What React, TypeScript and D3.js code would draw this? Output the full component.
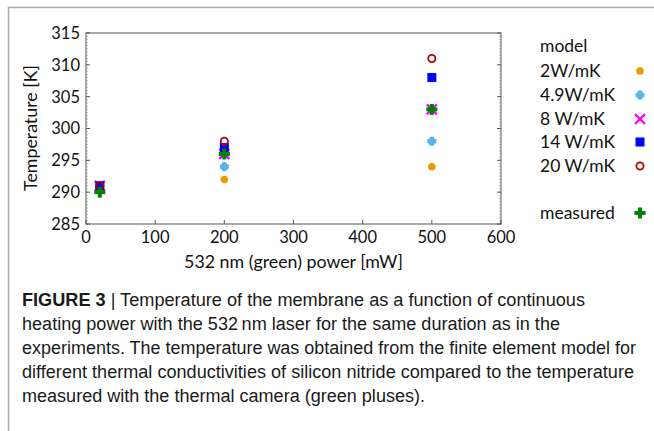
import React from "react";
import * as d3 from "d3";

const powers = [20, 200, 500];
const seriesNames = ["2W/mK", "4.9W/mK", "8 W/mK", "14 W/mK", "20 W/mK", "measured"];
const t2 = [291, 292, 294];
const t49 = [291, 294, 298];
const t8 = [291, 296, 303];
const t14 = [291, 297, 308];
const t20 = [291, 298, 311];
const tMeasured = [290, 296, 303];
const xTicks = [0, 100, 200, 300, 400, 500, 600];
const yTicks = [285, 290, 295, 300, 305, 310, 315];
const captionLines = [
  "Temperature of the membrane as a function of continuous",
  "heating power with the 532\u2009nm laser for the same duration as in the",
  "experiments. The temperature was obtained from the finite element model for",
  "different thermal conductivities of silicon nitride compared to the temperature",
  "measured with the thermal camera (green pluses).",
];
const captionEnds = [585, 560, 636, 634, 425];

const W = 654, H = 431;
const x = d3.scaleLinear().domain([0, 600]).range([86, 501]);
const y = d3.scaleLinear().domain([285, 315]).range([224, 33]);
const FONT = "Lato, 'Open Sans', sans-serif";

type MarkerKind = "dot" | "blob" | "x" | "square" | "ring" | "plus";
const kinds: MarkerKind[] = ["dot", "blob", "x", "square", "ring", "plus"];
const colors = ["#e69f00", "#56b4e9", "#ff00ff", "#0000ff", "#b00000", "#008000"];

function Marker({ kind, cx, cy, color }: { kind: MarkerKind; cx: number; cy: number; color: string }) {
  switch (kind) {
    case "dot":
      return <circle cx={cx} cy={cy} r={3.8} fill={color} />;
    case "blob":
      return (
        <g fill={color}>
          <circle cx={cx} cy={cy} r={3.6} />
          <rect x={cx - 4.5} y={cy - 2.2} width={9} height={4.4} />
          <rect x={cx - 2.2} y={cy - 4.5} width={4.4} height={9} />
        </g>
      );
    case "x":
      return (
        <path
          d={`M${cx - 5},${cy - 5}L${cx + 5},${cy + 5}M${cx - 5},${cy + 5}L${cx + 5},${cy - 5}`}
          stroke={color}
          strokeWidth={2.4}
          fill="none"
        />
      );
    case "square":
      return <rect x={cx - 4.5} y={cy - 4.5} width={9} height={9} fill={color} />;
    case "ring":
      return <circle cx={cx} cy={cy} r={3.6} fill="none" stroke={color} strokeWidth={1.8} />;
    case "plus":
      return (
        <g fill={color}>
          <rect x={cx - 5.5} y={cy - 2} width={11} height={4} />
          <rect x={cx - 2} y={cy - 5.5} width={4} height={11} />
        </g>
      );
  }
  return null;
}

export default function App() {
  const allSeries = [t2, t49, t8, t14, t20, tMeasured];
  const legendY = [71, 95, 119, 142, 166, 213];
  const minorY = d3.range(285, 315.01, 0.5);
  const axisColor = "#555";
  return (
    <svg width={W} height={H} style={{ position: "absolute", left: 0, top: 0 }}>
      <rect x={0} y={0} width={W} height={H} fill="#fff" />
      {/* panel border */}
      <path d={`M8.5,${H}V7.5H${W}`} stroke="#aaa" strokeWidth={1.5} fill="none" />
      {/* frame */}
      <rect
        x={x(0)}
        y={y(315)}
        width={x(600) - x(0)}
        height={y(285) - y(315)}
        fill="none"
        stroke={axisColor}
        strokeWidth={1}
      />
      {/* y minor ticks */}
      {minorY.map((v) => (
        <g key={"m" + v} stroke="#999" strokeWidth={0.7}>
          <line x1={x(0)} x2={x(0) + 2} y1={y(v)} y2={y(v)} />
          <line x1={x(600)} x2={x(600) - 2} y1={y(v)} y2={y(v)} />
        </g>
      ))}
      {/* y major ticks */}
      {yTicks.map((v) => (
        <g key={"y" + v}>
          <line x1={x(0)} x2={x(0) + 4} y1={y(v)} y2={y(v)} stroke={axisColor} />
          <line x1={x(600)} x2={x(600) - 4} y1={y(v)} y2={y(v)} stroke={axisColor} />
          <text x={80} y={y(v)} dy="0.36em" textAnchor="end" fontFamily={FONT} fontSize={16.5} fill="#111">
            {v}
          </text>
        </g>
      ))}
      {/* x ticks */}
      {xTicks.map((v) => (
        <g key={"x" + v}>
          <line x1={x(v)} x2={x(v)} y1={y(285)} y2={y(285) - 4} stroke={axisColor} />
          <text x={x(v)} y={243} textAnchor="middle" fontFamily={FONT} fontSize={16.5} fill="#111">
            {v}
          </text>
        </g>
      ))}
      <text x={(x(0) + x(600)) / 2} y={268} textAnchor="middle" fontFamily={FONT} fontSize={17.8} fill="#111">
        532 nm (green) power [mW]
      </text>
      <text
        transform={`translate(37,128) rotate(-90)`}
        textAnchor="middle"
        fontFamily={FONT}
        fontSize={17.8}
        fill="#111"
      >
        Temperature [K]
      </text>
      {/* data */}
      {allSeries.map((s, i) =>
        s.map((v, j) => (
          <Marker key={`${i}-${j}`} kind={kinds[i]} cx={x(powers[j])} cy={y(v)} color={colors[i]} />
        ))
      )}
      {/* legend */}
      <text x={540} y={52} fontFamily={FONT} fontSize={17.5} fill="#111">
        model
      </text>
      {seriesNames.map((n, i) => (
        <g key={n}>
          <text x={540} y={legendY[i]} dy="0.36em" fontFamily={FONT} fontSize={17.5} fill="#111">
            {n}
          </text>
          <Marker kind={kinds[i]} cx={640} cy={legendY[i]} color={colors[i]} />
        </g>
      ))}
      {/* caption */}
      <g fontFamily="'Liberation Sans Narrow', 'Liberation Sans', Arial, sans-serif" fontSize={18} fill="#1a1a1a">
        <text x={22} y={306} textLength={captionEnds[0] - 22} lengthAdjust="spacingAndGlyphs">
          <tspan fontWeight="bold">FIGURE 3</tspan>
          <tspan> | {captionLines[0]}</tspan>
        </text>
        {captionLines.slice(1).map((l, i) => (
          <text
            key={i}
            x={22}
            y={330 + i * 24}
            textLength={captionEnds[i + 1] - 22}
            lengthAdjust="spacingAndGlyphs"
          >
            {l}
          </text>
        ))}
      </g>
    </svg>
  );
}
